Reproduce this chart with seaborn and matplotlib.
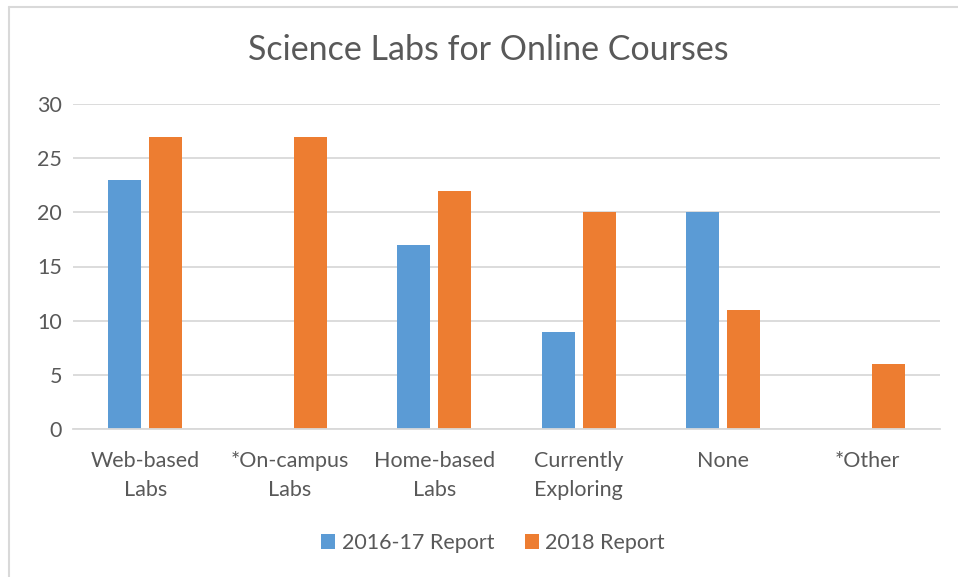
import matplotlib
matplotlib.use("Agg")
import matplotlib.pyplot as plt
import seaborn as sns
import pandas as pd
import numpy as np
from matplotlib.lines import Line2D
from matplotlib.patches import Patch

categories = ["Web-based\nLabs", "*On-campus\nLabs", "Home-based\nLabs",
              "Currently\nExploring", "None", "*Other"]
series_names = ["2016-17 Report", "2018 Report"]
values_2016 = [23, np.nan, 17, 9, 20, np.nan]
values_2018 = [27, 27, 22, 20, 11, 6]
yticks = [0, 5, 10, 15, 20, 25, 30]
colors = ["#5B9BD5", "#ED7D31"]
title = "Science Labs for Online Courses"

rows = []
for c, a, b in zip(categories, values_2016, values_2018):
    rows.append({"cat": c, "series": series_names[0], "val": a})
    rows.append({"cat": c, "series": series_names[1], "val": b})
df = pd.DataFrame(rows)

sns.set_theme(style="white")
plt.rcParams["font.family"] = ["Lato", "DejaVu Sans"]
text_color = "#595959"
grid_color = "#D9D9D9"
fs = 15.5

fig = plt.figure(figsize=(9.58, 5.77), dpi=100)
ax = fig.add_axes([73 / 958, 148 / 577, 867 / 958, 325 / 577])

sns.barplot(data=df, x="cat", y="val", hue="series", order=categories,
            hue_order=series_names, palette=colors, width=0.567, gap=0.195,
            saturation=1, ax=ax, legend=False, errorbar=None, linewidth=0)

ax.set_ylim(0, 30)
ax.set_xlim(-0.5, len(categories) - 0.5)
ax.set_yticks(yticks)
ax.set_yticklabels([str(t) for t in yticks])
ax.yaxis.grid(True, color=grid_color, linewidth=1.3)
ax.set_axisbelow(True)
for s in ["top", "right", "left"]:
    ax.spines[s].set_visible(False)
ax.spines["bottom"].set_color(grid_color)
ax.spines["bottom"].set_linewidth(1.3)
ax.tick_params(axis="both", length=0, colors=text_color, labelsize=fs)
ax.tick_params(axis="y", pad=8)
ax.tick_params(axis="x", pad=15.5)
for lab in ax.get_xticklabels():
    lab.set_linespacing(1.6)
    lab.set_verticalalignment("top")
ax.set_xlabel("")
ax.set_ylabel("")

fig.text(488 / 958, 1 - 49.5 / 577, title, ha="center", va="center",
         fontsize=24.5, color=text_color)

handles = [Patch(facecolor=colors[0], edgecolor="none"),
           Patch(facecolor=colors[1], edgecolor="none")]
fig.legend(handles, series_names, loc="center", bbox_to_anchor=(493 / 958, 1 - 543 / 577),
           ncol=2, frameon=False, fontsize=fs, handlelength=0.65, handleheight=0.65,
           handletextpad=0.3, columnspacing=1.4, labelcolor=text_color)

# chart frame
fig.add_artist(Line2D([8.5 / 958, 1], [1 - 6.5 / 577, 1 - 6.5 / 577], color=grid_color,
                      linewidth=1.5, transform=fig.transFigure))
fig.add_artist(Line2D([8.5 / 958, 8.5 / 958], [0, 1 - 6.5 / 577], color=grid_color,
                      linewidth=1.5, transform=fig.transFigure))

fig.savefig("out.png", dpi=100, facecolor="white")
